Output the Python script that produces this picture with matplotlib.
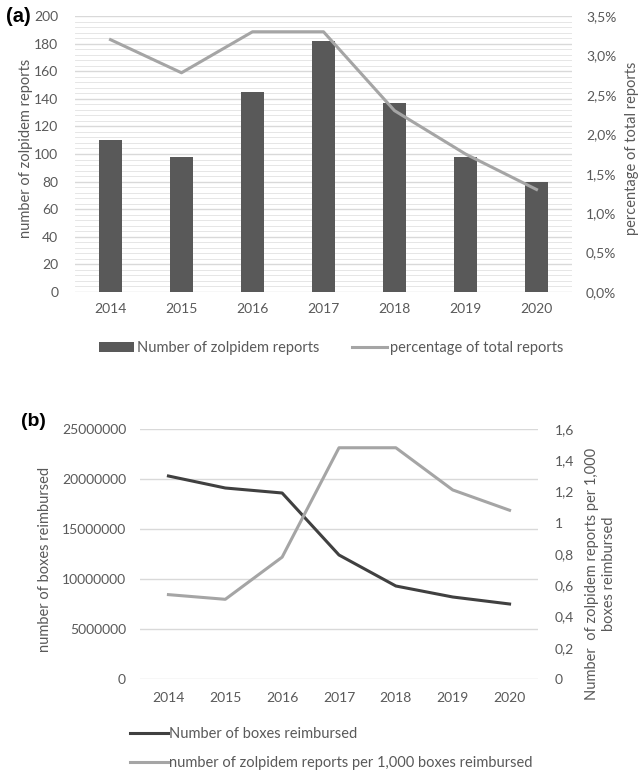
import numpy as np
import matplotlib.pyplot as plt
from matplotlib.ticker import FuncFormatter, MultipleLocator

plt.rcParams['font.family'] = ['Lato', 'DejaVu Sans']

# ---- data ----
years = ['2014', '2015', '2016', '2017', '2018', '2019', '2020']
zolpidem_reports = [110, 98, 145, 182, 137, 98, 80]
pct_total = [3.2, 2.78, 3.3, 3.3, 2.3, 1.75, 1.3]
boxes = [20300000, 19100000, 18600000, 12400000, 9300000, 8200000, 7500000]
per_1000 = [0.54, 0.51, 0.78, 1.48, 1.48, 1.21, 1.08]

TXT = '#595959'
GRID = '#d9d9d9'
DARK = '#595959'
LIGHT = '#a5a5a5'
FS = 10
W, H = 642, 773


def box(l, r, t, b):
    return [l / W, 1 - b / H, (r - l) / W, (b - t) / H]


fig = plt.figure(figsize=(6.42, 7.73), dpi=100)
x = np.arange(len(years))

# ---- (a) ----
ax1 = fig.add_axes(box(75, 572, 16, 292))
ax1.bar(x, zolpidem_reports, width=0.31, color=DARK, zorder=3,
        label='Number of zolpidem reports')
ax1.set_ylim(0, 200)
ax1.set_xlim(-0.5, len(years) - 0.5)
ax1.yaxis.set_major_locator(MultipleLocator(20))
ax1.yaxis.set_minor_locator(MultipleLocator(4))
ax1.grid(axis='y', which='major', color=GRID, lw=1.0, zorder=0)
ax1.grid(axis='y', which='minor', color='#e6e6e6', lw=0.7, zorder=0)
ax1.set_xticks(x, years)
ax1.set_ylabel('number of zolpidem reports', color=TXT, fontsize=10.5)
ax1.yaxis.set_label_coords(-0.085, 0.52)

ax2 = ax1.twinx()
ax2.plot(x, pct_total, color=LIGHT, lw=2.2, zorder=4,
         label='percentage of total reports')
ax2.set_ylim(0, 3.5)
ax2.yaxis.set_major_locator(MultipleLocator(0.5))
ax2.yaxis.set_major_formatter(FuncFormatter(lambda v, p: f'{v:.1f}%'.replace('.', ',')))
ax2.set_ylabel('percentage of total reports', color=TXT, fontsize=10.5)
ax2.yaxis.set_label_coords(1.107, 0.52)

for a in (ax1, ax2):
    for s in a.spines.values():
        s.set_visible(False)
    a.tick_params(which='both', length=0, labelsize=FS, colors=TXT, pad=10)
    a.tick_params(axis='x', pad=8)
ax1.tick_params(axis='y', pad=12)

h1, l1 = ax1.get_legend_handles_labels()
h2, l2 = ax2.get_legend_handles_labels()
fig.legend(h1 + h2, l1 + l2, loc='center', bbox_to_anchor=(0.516, 1 - 348 / H), ncol=2,
           frameon=False, fontsize=10.5, labelcolor=TXT, handlelength=2.4,
           handletextpad=0.2, columnspacing=2.2, borderpad=0, borderaxespad=0)

fig.text(6 / W, 1 - 17 / H, '(a)', fontsize=14.5, fontweight='bold',
         family='Liberation Sans', va='center')

# ---- (b) ----
ax3 = fig.add_axes(box(140, 538, 429, 679))
ax3.plot(x, boxes, color='#404040', lw=2.2, zorder=4,
         label='Number of boxes reimbursed')
ax3.set_ylim(0, 25000000)
ax3.set_xlim(-0.5, len(years) - 0.5)
ax3.yaxis.set_major_locator(MultipleLocator(5000000))
ax3.yaxis.set_major_formatter(FuncFormatter(lambda v, p: f'{int(v)}'))
ax3.grid(axis='y', color=GRID, lw=1.0, zorder=0)
ax3.set_xticks(x, years)
ax3.set_ylabel('number of boxes reimbursed', color=TXT, fontsize=10.5)
ax3.yaxis.set_label_coords(-0.221, 0.48)

ax4 = ax3.twinx()
ax4.plot(x, per_1000, color=LIGHT, lw=2.2, zorder=4,
         label='number of zolpidem reports per 1,000 boxes reimbursed')
ax4.set_ylim(0, 1.6)
ax4.yaxis.set_major_locator(MultipleLocator(0.2))
ax4.yaxis.set_major_formatter(FuncFormatter(lambda v, p: f'{v:g}'.replace('.', ',')))
ax4.set_ylabel('Number  of zolpidem reports per 1,000\nboxes reimbursed', color=TXT,
               fontsize=10.5, linespacing=1.3)
ax4.yaxis.set_label_coords(1.118, 0.42)

for a in (ax3, ax4):
    for s in a.spines.values():
        s.set_visible(False)
    a.tick_params(length=0, labelsize=FS, colors=TXT, pad=10)
    a.tick_params(axis='x', pad=9)
ax4.tick_params(axis='y', pad=12)

h3, l3 = ax3.get_legend_handles_labels()
h4, l4 = ax4.get_legend_handles_labels()
fig.legend(h3 + h4, l3 + l4, loc='upper left', bbox_to_anchor=(130 / W, 1 - 727 / H),
           ncol=1, frameon=False, fontsize=10.5, labelcolor=TXT, handlelength=2.6,
           handletextpad=0.05, labelspacing=1.05, borderpad=0, borderaxespad=0)

fig.text(21 / W, 1 - 422 / H, '(b)', fontsize=14, fontweight='bold',
         family='Liberation Sans', va='center')

fig.savefig('out.png', dpi=100)
